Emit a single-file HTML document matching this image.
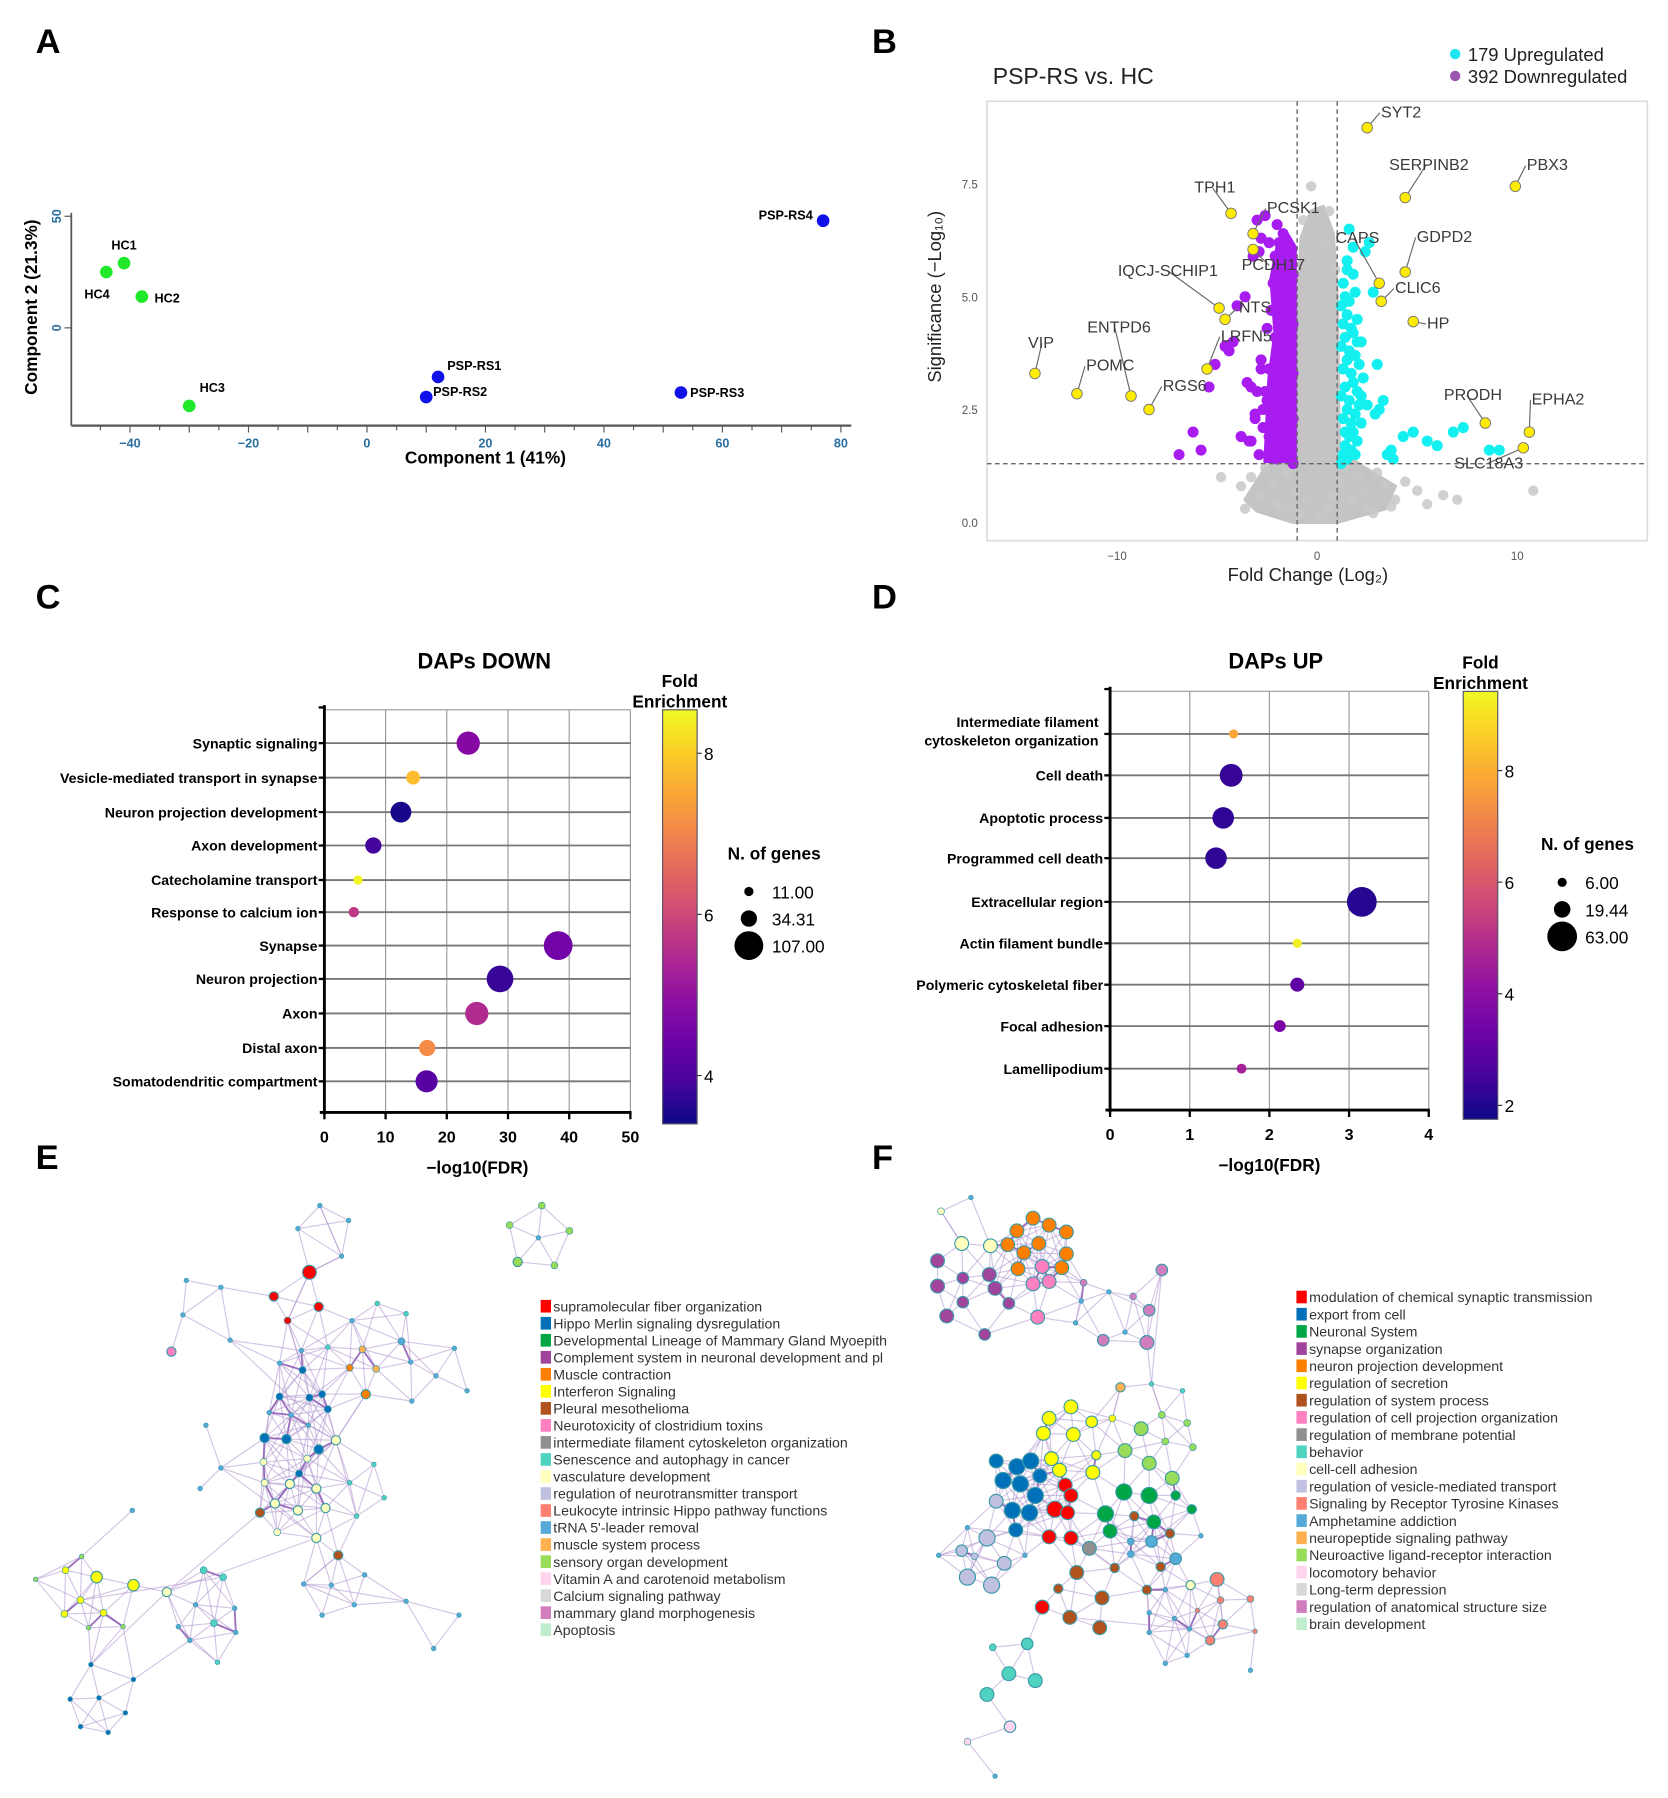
<!DOCTYPE html>
<html><head><meta charset="utf-8">
<style>
html,body{margin:0;padding:0;background:#fff;}
svg{display:block;font-family:"Liberation Sans",Arial,sans-serif;}
</style></head>
<body>
<svg id="fig" width="1668" height="1798" viewBox="0 0 1450 1563" preserveAspectRatio="none" xmlns="http://www.w3.org/2000/svg">
<rect width="1450" height="1563" fill="#fff"/>
<g font-weight="bold" font-size="30" fill="#000">
<text x="31" y="46">A</text>
<text x="758" y="46">B</text>
<text x="31" y="529">C</text>
<text x="758" y="529">D</text>
<text x="31" y="1016">E</text>
<text x="758" y="1016">F</text>
</g>
<g id="pA"></g>
<g id="pB"></g>
<g id="pC"></g>
<g id="pD"></g>
<g id="pE"></g>
<g id="pF"></g>
</svg>
<script>
// ===== Panel A data =====
const pcaSamples=["HC1","HC4","HC2","HC3","PSP-RS1","PSP-RS2","PSP-RS3","PSP-RS4"];
const pcaPC1=[-41,-44,-38,-30,12,10,53,77];
const pcaPC2=[29,25,14,-35,-22,-31,-29,48];
const pcaGroup=["HC","HC","HC","HC","PSP","PSP","PSP","PSP"];
const pcaXTicks=[-40,-20,0,20,40,60,80];
const pcaYTicks=[0,50];
// ===== Panel B data =====
const volGenes=["SYT2","PBX3","SERPINB2","TPH1","PCSK1","PCDH17","IQCJ-SCHIP1","NTS","ENTPD6","VIP","POMC","RGS6","LRFN5","CAPS","GDPD2","CLIC6","HP","PRODH","EPHA2","SLC18A3"];
const volGeneFC=[2.5,9.9,4.4,-4.3,-3.2,-3.2,-4.9,-4.6,-9.3,-14.1,-12,-8.4,-5.5,3.1,4.4,3.2,4.8,8.4,10.6,10.3];
const volGeneSig=[8.75,7.45,7.2,6.85,6.4,6.05,4.75,4.5,2.8,3.3,2.85,2.5,3.4,5.3,5.55,4.9,4.45,2.2,2.0,1.65];
const upFC=[1.2,1.3,1.4,1.5,1.6,1.7,1.8,2.0,2.2,1.3,1.5,1.9,2.1,1.2,1.4,1.6,1.8,2.0,2.3,1.3,1.5,1.7,1.9,2.1,1.2,1.4,1.6,1.8,2.2,1.3,1.5,1.7,2.0,1.2,1.4,1.6,1.9,1.3,1.5,1.8,2.4,2.6,2.8,3.3,3.0,2.5,1.6,1.8,1.5,2.0,3.2,3.5,3.7,3.8,4.3,4.8,5.5,6.0,6.8,7.3,8.6,9.1,2.2,1.4,1.7,2.9,3.1,1.9,1.6,1.3];
const upSig=[1.3,1.5,1.7,1.4,1.9,1.6,2.0,1.8,2.2,2.3,2.5,2.4,2.6,2.8,3.0,2.7,3.1,2.9,3.2,3.4,3.6,3.3,3.7,3.5,3.9,4.1,3.8,4.2,4.0,4.4,4.6,4.3,4.5,4.8,5.0,4.9,5.1,5.3,5.6,5.5,6.0,6.2,5.1,2.7,3.5,2.6,6.5,6.1,5.8,4.0,4.9,1.5,1.6,1.4,1.9,2.0,1.8,1.7,2.0,2.1,1.6,1.6,2.8,2.0,2.2,2.4,2.5,1.5,1.5,1.4];
const downFC=[-1.2,-1.4,-1.6,-1.8,-2.0,-2.2,-1.3,-1.5,-1.7,-1.9,-2.1,-2.4,-1.2,-1.4,-1.6,-1.8,-2.0,-2.3,-1.3,-1.5,-1.7,-1.9,-2.2,-2.6,-1.2,-1.4,-1.6,-1.8,-2.0,-2.4,-1.3,-1.5,-1.7,-1.9,-2.1,-2.5,-1.2,-1.4,-1.6,-1.8,-2.0,-2.3,-1.3,-1.5,-1.7,-1.9,-2.2,-1.2,-1.4,-1.6,-1.8,-2.1,-1.5,-1.9,-2.4,-2.8,-3.0,-2.6,-2.9,-3.2,-3.6,-4.0,-4.2,-4.6,-5.1,-5.4,-6.2,-6.9,-5.8,-3.4,-3.8,-3.1,-2.7,-2.5,-2.3,-3.3,-2.1,-1.6,-4.4,-3.5,-2.8,-2.2,-3.0,-2.0,-1.7,-2.9,-3.3,-2.7,-3.1,-2.8];
const downSig=[1.3,1.4,1.5,1.6,1.4,1.5,1.8,1.9,2.0,1.7,2.1,1.9,2.3,2.4,2.2,2.5,2.6,2.4,2.8,2.9,3.0,2.7,3.1,2.9,3.3,3.4,3.5,3.2,3.6,3.4,3.8,3.9,4.0,3.7,4.1,4.3,4.4,4.5,4.6,4.3,4.8,4.7,5.0,5.1,5.2,4.9,5.3,5.5,5.6,5.7,5.4,5.9,6.1,6.2,6.2,6.3,6.7,6.8,6.0,5.9,5.0,4.8,4.0,3.9,3.5,3.0,2.0,1.5,1.6,1.8,1.9,2.3,2.5,2.7,2.3,3.0,1.6,1.5,3.8,3.1,3.6,1.7,2.9,6.6,6.4,1.5,1.8,2.1,2.4,3.4];
const grayFC=[-3.8,-3.3,-2.9,-2.6,-2.2,-1.9,-1.5,-1.3,-1.1,-0.8,-0.5,0.2,0.5,0.8,1.1,1.4,1.7,2.0,2.3,2.6,3.0,3.4,3.9,4.4,5.0,5.5,6.3,7.0,10.8,-4.8,-3.6,2.8,3.7,-0.3,0.6,0.9,-0.7,0.4];
const graySig=[0.8,1.0,0.6,1.2,0.9,0.4,1.1,0.3,0.7,0.2,0.5,0.1,0.3,0.6,0.9,1.2,0.5,1.0,0.7,0.3,1.1,0.8,0.5,0.9,0.7,0.4,0.6,0.5,0.7,1.0,0.3,0.2,0.35,7.45,6.9,5.6,6.7,6.2];
const volXTicks=[-10,0,10];
const volYTicks=[0,2.5,5,7.5];
// ===== Panel C data =====
const downTerms=["Synaptic signaling","Vesicle-mediated transport in synapse","Neuron projection development","Axon development","Catecholamine transport","Response to calcium ion","Synapse","Neuron projection","Axon","Distal axon","Somatodendritic compartment"];
const downFDR=[23.5,14.5,12.5,8,5.5,4.8,38.2,28.7,24.9,16.8,16.7];
const downFE=[4.8,7.8,3.5,3.9,8.5,5.7,4.5,3.8,5.5,7.1,4.1];
const downGenes=[70,25,56,34,11,14,107,92,70,34,63];
const downXTicks=[0,10,20,30,40,50];
const downFETicks=[4,6,8];
const downSizeLegend=["11.00","34.31","107.00"];
// ===== Panel D data =====
const upTerms=["Intermediate filament|cytoskeleton organization","Cell death","Apoptotic process","Programmed cell death","Extracellular region","Actin filament bundle","Polymeric cytoskeletal fiber","Focal adhesion","Lamellipodium"];
const upFDR=[1.55,1.52,1.42,1.33,3.16,2.35,2.35,2.13,1.65];
const upFE=[7.8,2.3,2.2,2.2,2.1,9.2,3.0,3.6,4.6];
const upGenes=[6,37,33,33,63,6,14,10,7];
const upXTicks=[0,1,2,3,4];
const upFETicks=[2,4,6,8];
const upSizeLegend=["6.00","19.44","63.00"];
// ===== Network legends =====
const palette=["#ff0000","#0070b8","#00a645","#a0449c","#ff7f00","#ffff00","#b0521d","#ff80c0","#909090","#50d2c0","#ffffbe","#c0c0e0","#ff8070","#55aad8","#ffb050","#98dc5a","#ffd4ec","#d8d8d8","#d07ebe","#bfeccc"];
const eTerms=["supramolecular fiber organization","Hippo Merlin signaling dysregulation","Developmental Lineage of Mammary Gland Myoepith","Complement system in neuronal development and pl","Muscle contraction","Interferon Signaling","Pleural mesothelioma","Neurotoxicity of clostridium toxins","intermediate filament cytoskeleton organization","Senescence and autophagy in cancer","vasculature development","regulation of neurotransmitter transport","Leukocyte intrinsic Hippo pathway functions","tRNA 5'-leader removal","muscle system process","sensory organ development","Vitamin A and carotenoid metabolism","Calcium signaling pathway","mammary gland morphogenesis","Apoptosis"];
const fTerms=["modulation of chemical synaptic transmission","export from cell","Neuronal System","synapse organization","neuron projection development","regulation of secretion","regulation of system process","regulation of cell projection organization","regulation of membrane potential","behavior","cell-cell adhesion","regulation of vesicle-mediated transport","Signaling by Receptor Tyrosine Kinases","Amphetamine addiction","neuropeptide signaling pathway","Neuroactive ligand-receptor interaction","locomotory behavior","Long-term depression","regulation of anatomical structure size","brain development"];

const NS="http://www.w3.org/2000/svg";
function mk(parent,tag,attrs){const e=document.createElementNS(NS,tag);for(const k in attrs)e.setAttribute(k,attrs[k]);parent.appendChild(e);return e;}
function txt(parent,x,y,s,attrs){const e=mk(parent,"text",Object.assign({x:x,y:y},attrs||{}));e.textContent=s;return e;}
function lin(a,b,c,d){return v=>c+(v-a)*(d-c)/(b-a);}
function plasma(t){t=Math.max(0,Math.min(1,t));const st=[[13,8,135],[84,2,163],[126,3,168],[166,32,152],[204,71,120],[230,108,92],[248,149,64],[254,196,40],[240,249,33]];const p=t*(st.length-1);const i=Math.min(st.length-2,Math.floor(p));const f=p-i;const c=st[i].map((v,k)=>Math.round(v+(st[i+1][k]-v)*f));return `rgb(${c[0]},${c[1]},${c[2]})`;}

// ===== Draw A =====
(function(){
const g=document.getElementById("pA");
const X=lin(0,20,319,422), Y=lin(0,50,285,188);
let e=mk(g,"line",{x1:62,y1:370,x2:740,y2:370,stroke:"#555","stroke-width":2});

e=mk(g,"line",{x1:62,y1:185,x2:62,y2:370,stroke:"#555","stroke-width":1.5});

for(let v=-45;v<=80;v+=5){mk(g,"line",{x1:X(v),y1:370,x2:X(v),y2:v%10===0?376:374,stroke:"#555","stroke-width":1});}
pcaXTicks.forEach(v=>{const t=txt(g,X(v),389,v<0?"−"+(-v):String(v),{"text-anchor":"middle","font-size":11,fill:"#2a6fa0","font-weight":"bold"});});
pcaYTicks.forEach(v=>{mk(g,"line",{x1:56,y1:Y(v),x2:62,y2:Y(v),stroke:"#555"});const t=txt(g,0,0,String(v),{"text-anchor":"middle","font-size":11,fill:"#2a6fa0","font-weight":"bold",transform:`translate(53,${Y(v)}) rotate(-90)`});});
let t=txt(g,422,403,"Component 1 (41%)",{"text-anchor":"middle","font-size":15,"font-weight":"bold"});

t=txt(g,0,0,"Component 2 (21.3%)",{"text-anchor":"middle","font-size":15,"font-weight":"bold",transform:"translate(32,267) rotate(-90)"});

const lab={"HC1":[-11,-12,"start"],"HC4":[-19,23,"start"],"HC2":[11,5,"start"],"HC3":[9,-12,"start"],"PSP-RS1":[8,-6,"start"],"PSP-RS2":[6,-1,"start"],"PSP-RS3":[8,4,"start"],"PSP-RS4":[-9,-1,"end"]};
pcaSamples.forEach((s,i)=>{const cx=X(pcaPC1[i]),cy=Y(pcaPC2[i]);
const c=mk(g,"ellipse",{cx:cx,cy:cy,rx:5.5,ry:5.5,fill:pcaGroup[i]==="HC"?"#22e82a":"#1010e8"});

const l=lab[s];const tt=txt(g,cx+l[0],cy+l[1],s,{"font-size":11,"font-weight":"bold","text-anchor":l[2]});
});
})();

// ===== Draw B =====
(function(){
const g=document.getElementById("pB");
const X=lin(0,10,1145,1319), Y=lin(0,2.5,454,356);
let f=mk(g,"rect",{x:858,y:88,width:574,height:382,fill:"none",stroke:"#ddd","stroke-width":1.5});

let t=txt(g,863,73,"PSP-RS vs. HC",{"font-size":20,fill:"#222"});

let c=mk(g,"circle",{cx:1265,cy:47,r:4.5,fill:"#1ee6f0"});
t=txt(g,1276,53,"179 Upregulated",{"font-size":16,fill:"#222"});
c=mk(g,"circle",{cx:1265,cy:66,r:4.5,fill:"#9b55b0"});
t=txt(g,1276,72,"392 Downregulated",{"font-size":16,fill:"#222"});
volXTicks.forEach(v=>{const tt=txt(g,X(v),487,v<0?"−"+(-v):String(v),{"text-anchor":"middle","font-size":10,fill:"#555"});});
volYTicks.forEach(v=>{const tt=txt(g,850,Y(v)+4,v.toFixed(1),{"text-anchor":"end","font-size":10,fill:"#555"});});
t=txt(g,1137,505,"Fold Change (Log₂)",{"text-anchor":"middle","font-size":16,fill:"#222"});
t=txt(g,0,0,"Significance (−Log₁₀)",{"text-anchor":"middle","font-size":16,fill:"#222",transform:"translate(818,258) rotate(-90)"});
// gray cloud
const cloud=[[-3.6,0.5],[-2.6,1.2],[-1.2,1.5],[-1.05,4],[-0.8,6.3],[-0.3,6.9],[0.3,7.0],[0.8,6.4],[1.0,5],[1.1,1.6],[2.4,1.2],[3.9,0.8],[3.4,0.3],[1,0],[-1.2,0],[-3,0.25]];
let p=mk(g,"polygon",{points:cloud.map(q=>X(q[0])+","+Y(q[1])).join(" "),fill:"#c4c4c4",stroke:"#c4c4c4","stroke-width":3,"stroke-linejoin":"round"});

grayFC.forEach((v,i)=>{const e=mk(g,"circle",{cx:X(v),cy:Y(graySig[i]),r:4.5,fill:"#c8c8c8","fill-opacity":0.85});});
const band=[[-1.1,1.35],[-1.1,6.1],[-1.5,6.4],[-2.0,6.1],[-2.3,5.4],[-2.1,4.2],[-2.4,3.2],[-2.6,1.35]];
p=mk(g,"polygon",{points:band.map(q=>X(q[0])+","+Y(q[1])).join(" "),fill:"#a81cf0",stroke:"#a81cf0","stroke-width":3,"stroke-linejoin":"round"});

downFC.forEach((v,i)=>{const e=mk(g,"circle",{cx:X(v),cy:Y(downSig[i]),r:4.8,fill:"#a81cf0"});});
upFC.forEach((v,i)=>{const e=mk(g,"circle",{cx:X(v),cy:Y(upSig[i]),r:4.8,fill:"#14f0f0"});});
// thresholds
[-1,1].forEach(v=>{const l=mk(g,"line",{x1:X(v),y1:88,x2:X(v),y2:470,stroke:"#666","stroke-dasharray":"4,3","stroke-width":1.2});});
let l=mk(g,"line",{x1:858,y1:Y(1.3),x2:1432,y2:Y(1.3),stroke:"#666","stroke-dasharray":"4,3","stroke-width":1.2});
const off=[[12,-9],[10,-14],[-14,-24],[-32,-18],[12,-18],[-10,18],[-88,-28],[12,-6],[-38,-55],[-6,-22],[8,-20],[12,-16],[12,-24],[-38,-35],[10,-26],[12,-7],[12,6],[-36,-20],[2,-24],[-60,18]];
volGenes.forEach((gname,i)=>{const cx=X(volGeneFC[i]),cy=Y(volGeneSig[i]);const o=off[i];
const tx=cx+o[0],ty=cy+o[1];
const ln=mk(g,"line",{x1:cx,y1:cy,x2:o[0]>=0?tx-1:tx+gname.length*4,y2:ty-4,stroke:"#666","stroke-width":1});

const d=mk(g,"circle",{cx:cx,cy:cy,r:4.6,fill:"#ffec00",stroke:"#777","stroke-width":0.8});
const tt=txt(g,tx,ty,gname,{"font-size":14,fill:"#3a3a3a"});});
})();

// ===== Dot plots =====
function dotplot(gid,o){
const g=document.getElementById(gid);
const X=lin(0,o.xmax,o.x0,o.x1);
let t=txt(g,o.titleX,o.titleY,o.title,{"text-anchor":"middle","font-size":19,"font-weight":"bold"});
o.xticks.forEach(v=>{const l=mk(g,"line",{x1:X(v),y1:o.top,x2:X(v),y2:o.bot,stroke:"#999","stroke-width":1});
mk(g,"line",{x1:X(v),y1:o.bot,x2:X(v),y2:o.bot+6,stroke:"#000","stroke-width":2});
const tt=txt(g,X(v),o.bot+26,String(v),{"text-anchor":"middle","font-size":14,"font-weight":"bold"});});
mk(g,"line",{x1:o.x0,y1:o.top,x2:o.x1,y2:o.top,stroke:"#999"});
o.terms.forEach((term,i)=>{const y=o.rows[i];
const l=mk(g,"line",{x1:o.x0,y1:y,x2:o.x1,y2:y,stroke:"#777","stroke-width":1.6});
mk(g,"line",{x1:o.x0-5,y1:y,x2:o.x0,y2:y,stroke:"#000","stroke-width":2});
const parts=term.split("|");
if(parts.length>1){txt(g,o.x0-10,y-6,parts[0],{"text-anchor":"end","font-size":12.3,"font-weight":"bold"});txt(g,o.x0-10,y+10,parts[1],{"text-anchor":"end","font-size":12.3,"font-weight":"bold"});}
else{const tt=txt(g,o.x0-6,y+4.5,term,{"text-anchor":"end","font-size":12.3,"font-weight":"bold"});}
const c=mk(g,"circle",{cx:X(o.xv[i]),cy:y,r:o.k*Math.sqrt(o.genes[i]),fill:plasma((o.fe[i]-o.feMin)/(o.feMax-o.feMin))});
});
let l=mk(g,"line",{x1:o.x0,y1:o.top-4,x2:o.x0,y2:o.bot+2,stroke:"#000","stroke-width":2.5});
l=mk(g,"line",{x1:o.x0-4,y1:o.bot,x2:o.x1+1,y2:o.bot,stroke:"#000","stroke-width":2.5});
mk(g,"line",{x1:o.x0-5,y1:o.top-2,x2:o.x0,y2:o.top-2,stroke:"#000","stroke-width":2});
t=txt(g,(o.x0+o.x1)/2,o.bot+53,"−log10(FDR)",{"text-anchor":"middle","font-size":15,"font-weight":"bold"});
const defs=mk(g,"defs",{});const gr=mk(defs,"linearGradient",{id:gid+"grad",x1:0,y1:1,x2:0,y2:0});
for(let i=0;i<=10;i++)mk(gr,"stop",{offset:i/10,"stop-color":plasma(i/10)});
const cb=mk(g,"rect",{x:o.cbx,y:o.cbTop,width:30,height:o.cbBot-o.cbTop,fill:`url(#${gid}grad)`,stroke:"#556",});

const CY=lin(o.feMin,o.feMax,o.cbBot,o.cbTop);
o.feTicks.forEach(v=>{mk(g,"line",{x1:o.cbx+30,y1:CY(v),x2:o.cbx+34,y2:CY(v),stroke:"#333"});const tt=txt(g,o.cbx+36,CY(v)+6,String(v),{"font-size":15});});
txt(g,o.cbx+15,o.cbTop-20,"Fold",{"text-anchor":"middle","font-size":15,"font-weight":"bold"});
txt(g,o.cbx+15,o.cbTop-2,"Enrichment",{"text-anchor":"middle","font-size":15,"font-weight":"bold"});
txt(g,o.lgx+28,o.lgy,"N. of genes",{"text-anchor":"middle","font-size":15,"font-weight":"bold"});
o.sizeLeg.forEach((s,i)=>{const cy=o.lgy+28+i*23.5;const c=mk(g,"circle",{cx:o.lgx+6,cy:cy,r:o.k*Math.sqrt(parseFloat(s)),fill:"#000"});
const tt=txt(g,o.lgx+26,cy+6,s,{"font-size":15});});
}
dotplot("pC",{title:"DAPs DOWN",titleX:421,titleY:581,x0:282,x1:548,xmax:50,top:617,bot:967,rows:[646,676,706,735,765,793,822,851,881,911,940],terms:downTerms,xv:downFDR,fe:downFE,genes:downGenes,k:1.21,xticks:downXTicks,feMin:3.4,feMax:8.54,cbx:576,cbTop:617,cbBot:977,feTicks:downFETicks,lgx:645,lgy:747,sizeLeg:downSizeLegend});
dotplot("pD",{title:"DAPs UP",titleX:1109,titleY:581,x0:965,x1:1242,xmax:4,top:601,bot:965,rows:[638,674,711,746,784,820,856,892,929],terms:upTerms,xv:upFDR,fe:upFE,genes:upGenes,k:1.63,xticks:upXTicks,feMin:1.75,feMax:9.42,cbx:1272,cbTop:601,cbBot:973,feTicks:upFETicks,lgx:1352,lgy:739,sizeLeg:upSizeLegend});

// ===== Networks =====
const eNodes=[[278,1048,13,2],[259,1068,13,2],[303,1061,13,2],[297,1092,13,2],
[269,1106,0,6],[238,1127,0,4],[277,1136,0,4],[250,1148,0,3],
[471,1048,15,3],[443,1065,15,3],[495,1070,15,3],[468,1076,13,2],[450,1097,15,4],[482,1100,15,3],
[162,1113,13,2],[192,1119,13,2],[159,1143,13,2],[149,1175,7,4],[200,1165,13,2],
[328,1133,9,2],[353,1142,9,2],[306,1148,13,2],[349,1166,13,3],[315,1173,14,3],[327,1190,14,3],[304,1189,4,3],[285,1171,9,2],[357,1184,13,2],[395,1172,13,2],[379,1196,13,2],[406,1209,13,2],[358,1218,13,2],[318,1212,4,4],
[262,1174,13,2],[243,1185,13,2],[263,1191,1,3],[243,1214,1,3],[269,1215,1,3],[280,1212,1,3],[285,1225,1,3],[234,1228,13,2],[253,1230,13,2],[230,1250,1,4],[249,1251,1,4],[268,1239,13,2],[292,1252,10,4],[277,1260,1,4],[229,1271,10,3],[267,1268,10,3],[260,1281,1,3],[230,1289,10,3],[252,1290,10,4],[275,1294,10,4],[239,1307,10,4],[259,1313,10,4],[283,1311,10,4],[226,1315,6,4],[241,1332,10,3],[275,1337,10,4],[179,1239,13,2],[192,1276,13,2],
[325,1273,9,2],[304,1289,9,2],[334,1302,9,2],[310,1318,9,2],[174,1294,13,2],[115,1313,13,2],[294,1352,6,4],
[317,1369,13,2],[264,1377,13,2],[288,1378,13,2],[308,1395,13,2],[280,1404,13,2],[353,1392,13,2],[399,1404,13,2],[377,1433,13,2],
[57,1365,5,3],[71,1353,15,2],[84,1371,5,5],[31,1373,15,2],[116,1378,5,5],[70,1391,5,3],[56,1403,5,3],[90,1402,5,3],[77,1415,15,2],[107,1414,15,2],
[145,1384,10,4],[177,1365,9,3],[194,1371,9,3],[170,1395,13,2],[204,1398,13,2],[155,1414,13,2],[186,1411,9,3],[205,1419,13,2],[165,1426,13,2],[189,1445,9,2],
[79,1447,1,2],[116,1460,1,2],[61,1477,1,2],[86,1476,1,2],[109,1489,1,2],[70,1501,1,2],[94,1506,1,2]];
const eLinks=[[0,3],[4,7],[7,35],[18,33],[33,35],[56,45],[45,18],[60,58],[45,64],[64,66],[66,77],[67,69],[56,86],[86,96],[58,86],[69,73],[96,56],[81,88],[32,45],[3,4],[21,33],[94,97]];
const fNodes=[[844,1041,13,2],[818,1053,10,3],[836,1081,10,6],[861,1083,10,6],[898,1059,4,6],[912,1065,4,6],[927,1071,4,6],[884,1070,4,6],[876,1082,4,6],[903,1081,4,6],[890,1089,4,6],[927,1090,4,6],[885,1103,4,6],[923,1102,4,6],[906,1101,7,6],[898,1116,7,6],[912,1114,7,6],[902,1145,7,6],[815,1096,3,6],[815,1118,3,6],[837,1111,3,5],[860,1108,3,6],[865,1120,3,6],[837,1132,3,5],[877,1133,3,5],[823,1144,3,6],[856,1160,3,5],[942,1115,18,3],[940,1131,13,2],[935,1150,13,2],[964,1123,13,2],[985,1127,18,3],[978,1158,13,2],[1010,1104,18,5],[999,1139,18,5],[959,1165,18,5],[997,1167,18,6],
[931,1223,5,6],[912,1233,5,6],[907,1246,5,6],[933,1247,5,6],[949,1236,5,5],[967,1233,5,3],[914,1268,5,6],[921,1278,5,6],[953,1265,5,4],[950,1280,5,6],[974,1206,14,4],
[992,1242,15,6],[978,1261,15,6],[999,1272,15,6],[1019,1285,15,6],[1037,1258,15,3],[1032,1237,15,3],[1013,1253,15,3],[1001,1203,9,2],[1028,1209,9,2],[1010,1230,15,3],[977,1297,2,7],[999,1300,2,7],[1022,1300,2,4],[961,1316,2,7],[1003,1323,2,6],[965,1331,2,6],[1036,1312,2,4],
[866,1270,1,6],[884,1275,1,7],[896,1270,1,7],[904,1283,1,6],[872,1287,1,7],[887,1290,1,7],[900,1300,1,7],[880,1313,1,7],[895,1315,1,7],[883,1330,1,6],
[926,1291,0,6],[931,1300,0,6],[917,1312,0,7],[928,1315,0,6],[912,1336,0,6],[931,1337,0,6],[906,1397,0,6],
[866,1305,11,6],[858,1337,11,7],[836,1348,11,5],[873,1359,11,6],[841,1371,11,7],[862,1378,11,7],[841,1328,13,2],[891,1352,13,2],[816,1352,13,2],[847,1353,11,3],
[947,1346,8,6],
[986,1318,6,4],[1017,1333,6,4],[936,1367,6,6],[969,1363,6,4],[1009,1362,6,4],[920,1381,6,4],[958,1389,6,6],[997,1382,6,4],[930,1406,6,6],[956,1415,6,6],
[983,1340,13,3],[1001,1340,13,5],[1022,1355,13,5],[983,1351,13,3],
[1058,1373,12,6],[1061,1391,12,3],[1087,1390,12,3],[1063,1412,12,4],[1052,1426,12,4],[1041,1400,12,2],[1091,1418,12,2],
[1035,1378,10,4],[1013,1382,13,2],[999,1402,13,2],[1021,1407,13,2],[1034,1416,13,2],[999,1419,13,2],[1032,1439,13,2],[1013,1446,13,2],[1087,1452,13,2],[1044,1335,13,2],
[893,1429,9,5],[863,1432,9,3],[877,1455,9,6],[900,1461,9,6],[858,1473,9,6],
[878,1501,16,5],[841,1514,16,3],[865,1544,13,2]];
const fLinks=[[0,3],[1,2],[17,28],[26,17],[33,36],[36,31],[47,42],[57,55],[86,83],[88,79],[96,80],[118,101],[104,64],[55,33],[37,66],[90,78]];
function network(gid,nodes,links,terms,lx,ly,step,thr){
const g=document.getElementById(gid);
const eg=mk(g,"g",{});
const pairs=[];
for(let i=0;i<nodes.length;i++)for(let j=i+1;j<nodes.length;j++){const dx=nodes[i][0]-nodes[j][0],dy=nodes[i][1]-nodes[j][1];const d=Math.hypot(dx,dy);if(d<thr)pairs.push([i,j,d]);}
links.forEach(l=>{const a=nodes[l[0]],b=nodes[l[1]];if(a&&b&&Math.hypot(a[0]-b[0],a[1]-b[1])<150)pairs.push([l[0],l[1],99]);});
pairs.forEach(p=>{const a=nodes[p[0]],b=nodes[p[1]];const strong=p[2]<thr*0.45;
mk(eg,"line",{x1:a[0],y1:a[1],x2:b[0],y2:b[1],stroke:strong?"#7a3fa8":"#a98cc9","stroke-opacity":strong?0.75:0.5,"stroke-width":strong?1.6:1});});
nodes.forEach(n=>{const c=mk(g,"circle",{cx:n[0],cy:n[1],r:n[3],fill:palette[n[2]],stroke:"#3a9aa8","stroke-width":n[3]>3?1:0.6});
});
terms.forEach((t,i)=>{const y=ly+i*step;
const r=mk(g,"rect",{x:lx,y:y-10,width:9,height:11,fill:palette[i]});
const tt=txt(g,lx+11,y,t,{"font-size":12.3,fill:"#333"});});
}
network("pE",eNodes,eLinks,eTerms,470,1140,14.8,48);
network("pF",fNodes,fLinks,fTerms,1127,1132,14.95,40);
</script>
</body></html>
